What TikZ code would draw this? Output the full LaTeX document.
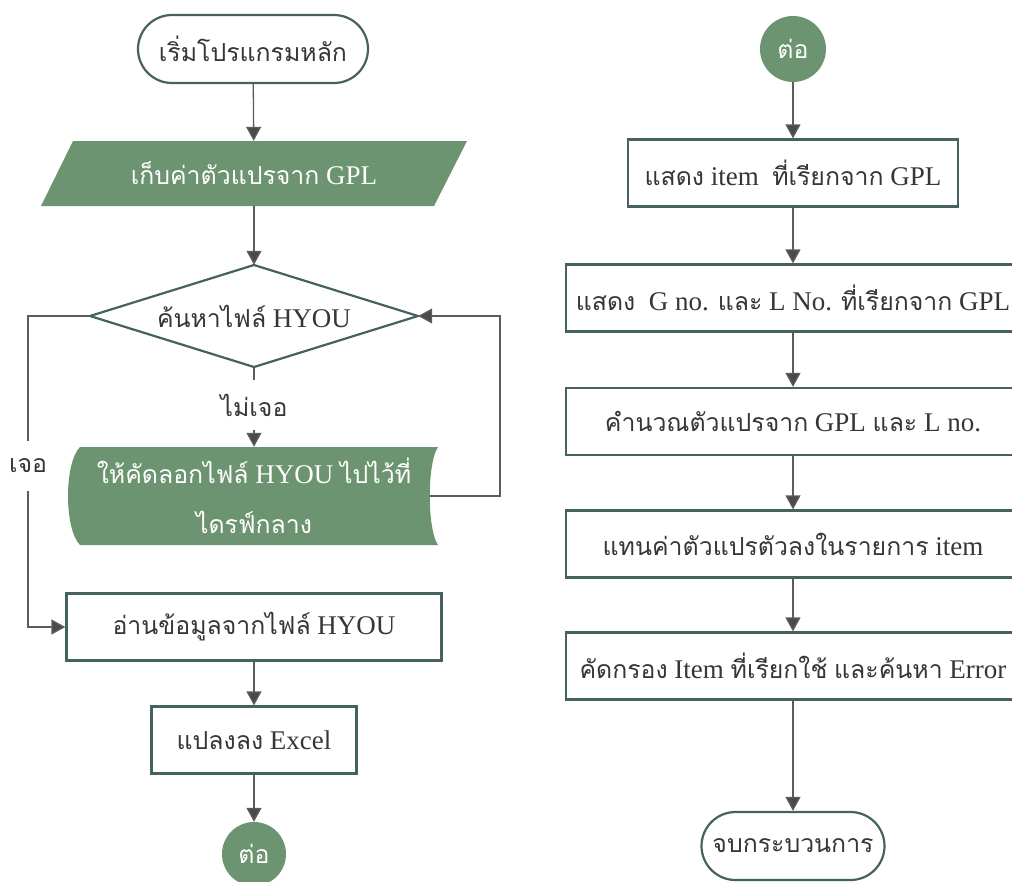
\documentclass[tikz,border=0pt]{standalone}
\usepackage{fontspec}
\setmainfont{Liberation Serif}
\newfontfamily\thaifont[Script=Thai,Scale=0.92]{Loma}
\newcommand{\T}[1]{{\thaifont #1}}
\usetikzlibrary{arrows.meta,shapes.geometric}
\definecolor{bord}{HTML}{44625F}
\definecolor{gfill}{HTML}{6D9470}
\definecolor{lin}{HTML}{5C5C5C}
\definecolor{txt}{HTML}{333737}
\tikzset{
  base/.style={font=\fontsize{27}{50}\selectfont, text=txt, inner sep=0pt},
  box/.style={base, draw=bord, line width=2.2pt, fill=white, minimum height=67pt},
  term/.style={base, draw=bord, line width=2.2pt, fill=white, minimum height=68pt, rounded corners=34pt},
  conn/.style={base, circle, fill=gfill, text=white},
  lbl/.style={base},
  flow/.style={draw=lin, line width=1.3pt, -{Triangle[width=15pt,length=14pt,fill=lin!80!black]}},
  plain/.style={draw=lin, line width=1.3pt},
}
\begin{document}
\begin{tikzpicture}[x=1pt,y=-1pt]
\useasboundingbox (0,0) rectangle (1012,881);
% left column
\node[term, minimum width=230pt] (start) at (253,49) {\T{เริ่มโปรแกรมหลัก}};
\fill[gfill] (73,141) -- (467,141) -- (434,206) -- (41,206) -- cycle;
\node[base, text=white, minimum width=330pt, minimum height=65pt] (input) at (254,173.5) {\T{เก็บค่าตัวแปรจาก} GPL};
\filldraw[draw=bord, line width=2.2pt, fill=white] (254,265) -- (418,316) -- (254,367) -- (90,316) -- cycle;
\node[base, minimum width=328pt, minimum height=102pt] (find) at (254,316) {\T{ค้นหาไฟล์} HYOU};
\node[lbl, minimum height=50pt] (no) at (254,405) {\T{ไม่เจอ}};
\fill[gfill] (80,447) -- (438,447) .. controls (427,463) and (427,529) .. (438,545) -- (80,545) .. controls (64,529) and (64,463) .. (80,447) -- cycle;
\node[base, text=white, align=center, minimum width=350pt, minimum height=98pt] (copy) at (254,496) {\T{ให้คัดลอกไฟล์} HYOU \T{ไปไว้ที่}\\\T{ไดรฟ์กลาง}};
\coordinate (copyout) at (430,496);
\coordinate (loopc) at (500,496);
\node[lbl, minimum height=50pt] (yes) at (28,466) {\T{เจอ}};
\node[box, minimum width=375pt] (read) at (254,627) {\T{อ่านข้อมูลจากไฟล์} HYOU};
\node[box, minimum width=205pt] (excel) at (254,740) {\T{แปลงลง} Excel};
\node[conn, minimum size=64pt] (c1) at (254,854) {\T{ต่อ}};
% right column
\node[conn, minimum size=66pt] (c2) at (793,49) {\T{ต่อ}};
\node[box, minimum width=330pt] (b1) at (793,173) {\T{แสดง} item \ \T{ที่เรียกจาก} GPL};
\node[box, minimum width=454pt] (b2) at (793,298) {\T{แสดง} \ G no. \T{และ} L No. \T{ที่เรียกจาก} GPL};
\node[box, minimum width=454pt] (b3) at (793,421.5) {\T{คำนวณตัวแปรจาก} GPL \T{และ} L no.};
\node[box, minimum width=454pt] (b4) at (793,544) {\T{แทนค่าตัวแปรตัวลงในรายการ} item};
\node[box, minimum width=454pt] (b5) at (793,666) {\T{คัดกรอง} Item \T{ที่เรียกใช้} \T{และค้นหา} Error};
\node[term, minimum width=183pt] (end) at (793,846) {\T{จบกระบวนการ}};
% connectors
\draw[flow] (start) -- (input);
\draw[flow] (input) -- (find);
\draw[plain] (find.south) -- (no.north);
\draw[flow] (no.south) -- (copy.north);
\draw[flow] (copyout) -- (loopc) |- (find.east);
\draw[plain] (find.west) -| (yes.north);
\draw[flow] (yes.south) |- (read.west);
\draw[flow] (read) -- (excel);
\draw[flow] (excel) -- (c1);
\draw[flow] (c2) -- (b1);
\draw[flow] (b1) -- (b2);
\draw[flow] (b2) -- (b3);
\draw[flow] (b3) -- (b4);
\draw[flow] (b4) -- (b5);
\draw[flow] (b5) -- (end);
\end{tikzpicture}
\end{document}
